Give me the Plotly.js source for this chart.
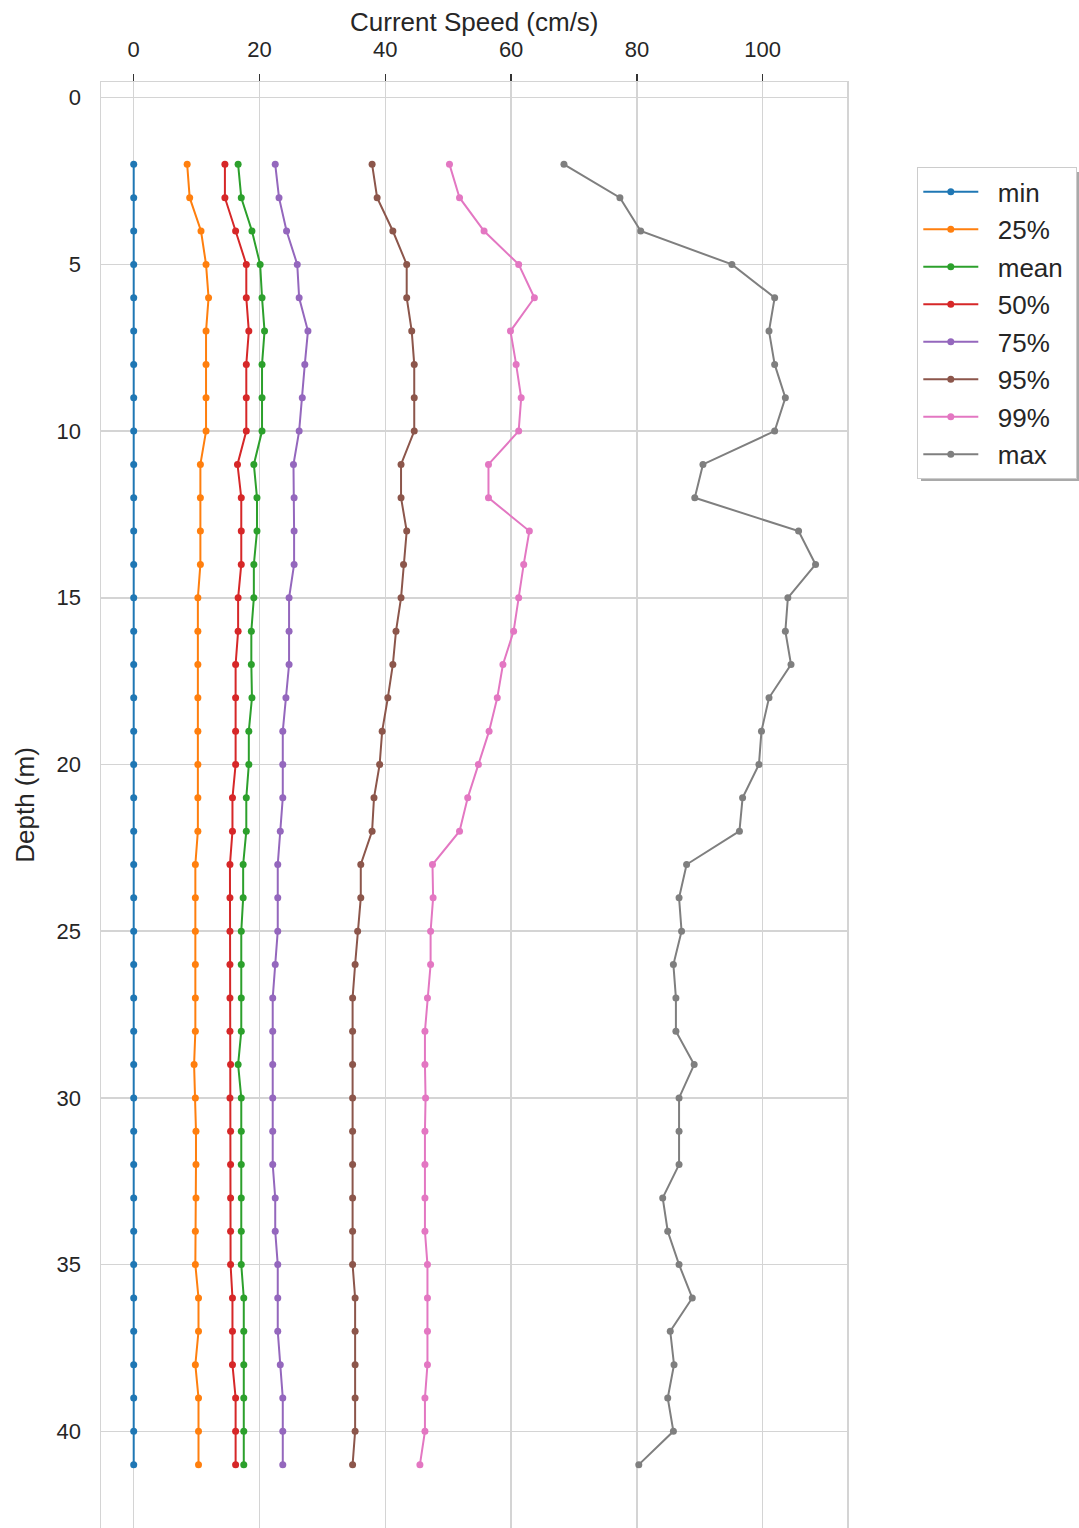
<!DOCTYPE html>
<html>
<head>
<meta charset="utf-8">
<script src="https://cdn.plot.ly/plotly-3.0.1.min.js"></script>
<style>
  html, body { margin: 0; padding: 0; background: #ffffff; }
  #chart { width: 1079px; height: 1528px; }
</style>
</head>
<body>
<div id="chart"></div>
<script>
// Depth bins (m)
const depth = [2, 3, 4, 5, 6, 7, 8, 9, 10, 11, 12, 13, 14, 15, 16, 17, 18, 19, 20, 21,
               22, 23, 24, 25, 26, 27, 28, 29, 30, 31, 32, 33, 34, 35, 36, 37, 38, 39, 40, 41];

// Current speed statistics per depth bin (cm/s)
const speedMin = [0, 0, 0, 0, 0, 0, 0, 0, 0, 0, 0, 0, 0, 0, 0, 0, 0, 0, 0, 0,
                  0, 0, 0, 0, 0, 0, 0, 0, 0, 0, 0, 0, 0, 0, 0, 0, 0, 0, 0, 0];
const speedP25 = [8.5, 8.9, 10.7, 11.5, 11.9, 11.5, 11.5, 11.5, 11.5, 10.6,
                  10.6, 10.6, 10.6, 10.2, 10.2, 10.2, 10.2, 10.2, 10.2, 10.2,
                  10.2, 9.8, 9.8, 9.8, 9.8, 9.8, 9.8, 9.6, 9.8, 9.9,
                  9.9, 9.9, 9.8, 9.8, 10.3, 10.3, 9.8, 10.3, 10.3, 10.3];
const speedMean = [16.6, 17.1, 18.8, 20.1, 20.4, 20.8, 20.4, 20.4, 20.4, 19.1,
                   19.6, 19.6, 19.1, 19.1, 18.7, 18.7, 18.8, 18.3, 18.3, 17.9,
                   17.9, 17.4, 17.4, 17.1, 17.1, 17.1, 17.1, 16.6, 17.1, 17.1,
                   17.1, 17.1, 17.1, 17.1, 17.5, 17.5, 17.5, 17.5, 17.5, 17.5];
const speedP50 = [14.5, 14.5, 16.2, 17.9, 17.9, 18.3, 17.9, 17.9, 17.9, 16.5,
                  17.1, 17.1, 17.1, 16.6, 16.6, 16.2, 16.2, 16.2, 16.2, 15.7,
                  15.7, 15.3, 15.3, 15.3, 15.3, 15.3, 15.3, 15.4, 15.3, 15.4,
                  15.4, 15.4, 15.4, 15.4, 15.7, 15.7, 15.7, 16.2, 16.2, 16.2];
const speedP75 = [22.5, 23.1, 24.3, 26.0, 26.3, 27.7, 27.2, 26.8, 26.3, 25.4,
                  25.5, 25.5, 25.5, 24.7, 24.7, 24.7, 24.2, 23.7, 23.7, 23.7,
                  23.3, 22.9, 22.9, 22.9, 22.5, 22.1, 22.1, 22.1, 22.1, 22.1,
                  22.1, 22.5, 22.5, 22.9, 22.9, 22.9, 23.3, 23.7, 23.7, 23.7];
const speedP95 = [37.9, 38.7, 41.2, 43.4, 43.4, 44.2, 44.6, 44.6, 44.6, 42.5,
                  42.5, 43.4, 42.9, 42.5, 41.7, 41.2, 40.4, 39.5, 39.1, 38.2,
                  37.9, 36.1, 36.1, 35.6, 35.2, 34.8, 34.8, 34.8, 34.8, 34.8,
                  34.8, 34.8, 34.8, 34.8, 35.2, 35.2, 35.2, 35.2, 35.2, 34.8];
const speedP99 = [50.2, 51.8, 55.7, 61.2, 63.7, 59.9, 60.8, 61.6, 61.2, 56.4,
                  56.4, 62.9, 62.0, 61.2, 60.4, 58.7, 57.8, 56.5, 54.8, 53.1,
                  51.8, 47.5, 47.6, 47.2, 47.2, 46.7, 46.3, 46.3, 46.4, 46.3,
                  46.3, 46.3, 46.3, 46.7, 46.7, 46.7, 46.7, 46.3, 46.3, 45.5];
const speedMax = [68.4, 77.3, 80.6, 95.1, 101.9, 101.0, 101.9, 103.6, 101.9, 90.5,
                  89.2, 105.7, 108.4, 104.0, 103.6, 104.5, 101.0, 99.8, 99.4, 96.8,
                  96.3, 87.9, 86.7, 87.1, 85.8, 86.2, 86.2, 89.1, 86.7, 86.7,
                  86.7, 84.1, 84.9, 86.7, 88.8, 85.3, 85.9, 84.9, 85.8, 80.3];

const seriesNames = ['min', '25%', 'mean', '50%', '75%', '95%', '99%', 'max'];
const seriesValues = [speedMin, speedP25, speedMean, speedP50, speedP75, speedP95, speedP99, speedMax];
const seriesColors = ['#1f77b4', '#ff7f0e', '#2ca02c', '#d62728', '#9467bd', '#8c564b', '#e377c2', '#7f7f7f'];

const xTicks = [0, 20, 40, 60, 80, 100];
const yTicks = [0, 5, 10, 15, 20, 25, 30, 35, 40];

const FONT = 'Liberation Sans, Arial, Helvetica, sans-serif';
const TEXT = '#262626';
const GRID = '#d4d4d4';
const NBSP = '\u00a0';

// pixel -> paper helpers for the legend drop shadow (plot area 101..847 x 82..1528)
const PLOT = { l: 101, r: 847, t: 82, b: 1528 };
const px2x = p => (p - PLOT.l) / (PLOT.r - PLOT.l);
const px2y = p => (PLOT.b - p) / (PLOT.b - PLOT.t);

const traces = seriesNames.map((name, i) => ({
  type: 'scatter',
  mode: 'lines+markers',
  name: NBSP + NBSP + name + NBSP,
  x: seriesValues[i],
  y: depth,
  line: { color: seriesColors[i], width: 2 },
  marker: { color: seriesColors[i], size: 7 },
  legendgroup: 'g' + i
}));

const layout = {
  width: 1079,
  height: 1528,
  paper_bgcolor: '#ffffff',
  plot_bgcolor: '#ffffff',
  font: { family: FONT, color: TEXT },
  margin: { l: 101, r: 232, t: 82, b: 0, autoexpand: false },
  showlegend: true,
  xaxis: {
    side: 'top',
    range: [-5.2, 113.4],
    tickvals: xTicks,
    ticktext: xTicks.map(String),
    ticks: 'outside',
    ticklen: 7,
    tickwidth: 1.3,
    tickcolor: '#333333',
    ticklabelstandoff: 8,
    tickfont: { family: FONT, size: 22, color: TEXT },
    showgrid: true,
    gridcolor: GRID,
    gridwidth: 1.5,
    showline: true,
    linecolor: GRID,
    linewidth: 1.5,
    zeroline: false
  },
  yaxis: {
    range: [42.9, -0.47],
    tickvals: yTicks,
    ticktext: yTicks.map(String),
    ticks: '',
    ticklabelstandoff: 14,
    tickfont: { family: FONT, size: 22, color: TEXT },
    showgrid: true,
    gridcolor: GRID,
    gridwidth: 1.5,
    showline: true,
    mirror: true,
    linecolor: GRID,
    linewidth: 1.5,
    zeroline: false,
    title: { text: 'Depth (m)', font: { family: FONT, size: 26, color: TEXT }, standoff: 14 }
  },
  annotations: [{
    text: 'Current Speed (cm/s)',
    xref: 'paper', yref: 'paper',
    x: 0.5, y: 1,
    xanchor: 'center', yanchor: 'middle',
    yshift: 60,
    showarrow: false,
    font: { family: FONT, size: 26, color: TEXT }
  }],
  shapes: [{
    type: 'rect',
    xref: 'paper', yref: 'paper',
    x0: px2x(921), x1: px2x(1090),
    y0: px2y(481), y1: px2y(172),
    line: { width: 0 },
    fillcolor: '#9a9a9a',
    opacity: 0.85,
    layer: 'above'
  }],
  legend: {
    x: px2x(917),
    xanchor: 'left',
    y: px2y(167),
    yanchor: 'top',
    bgcolor: '#ffffff',
    bordercolor: '#cccccc',
    borderwidth: 1.3,
    itemwidth: 55,
    tracegroupgap: 0.7,
    font: { family: FONT, size: 26, color: TEXT }
  }
};

Plotly.newPlot('chart', traces, layout, { displayModeBar: false, staticPlot: true });
</script>
</body>
</html>
